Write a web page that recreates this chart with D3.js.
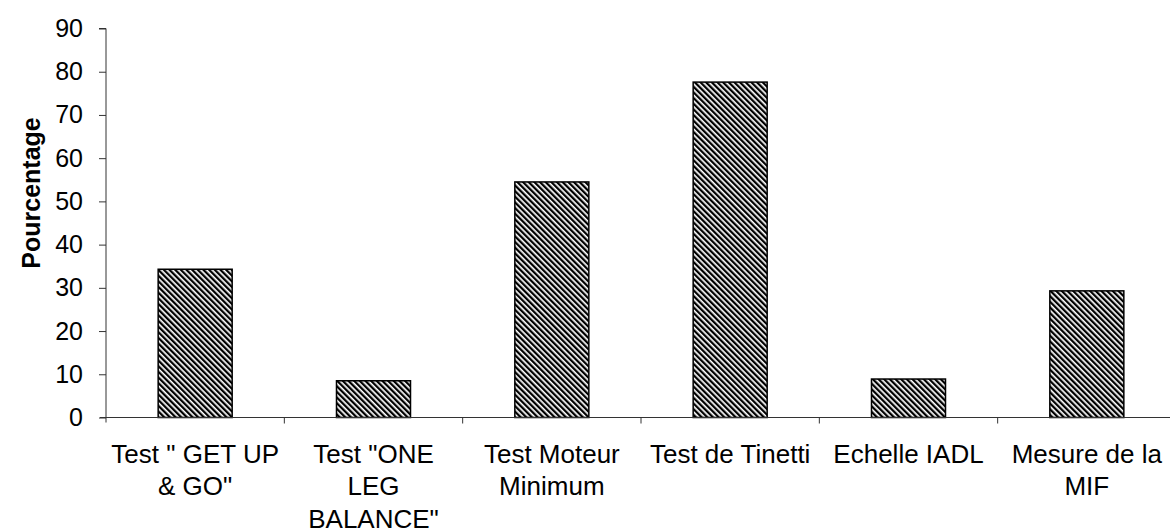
<!DOCTYPE html>
<html>
<head>
<meta charset="utf-8">
<script src="https://cdn.jsdelivr.net/npm/d3@7"></script>
<style>
    body { margin: 0; background: #fff; }
    svg text { font-family: "Liberation Sans", Arial, sans-serif; fill: #000; }
</style>
</head>
<body>
<svg id="chart" width="1170" height="531"></svg>
<script>
const categories = [
    ['Test " GET UP', '& GO"'],
    ['Test "ONE', 'LEG', 'BALANCE"'],
    ['Test Moteur', 'Minimum'],
    ['Test de Tinetti'],
    ['Echelle IADL'],
    ['Mesure de la', 'MIF']
];
const values = [34.3, 8.5, 54.5, 77.6, 8.9, 29.3];
const yTicks = [0, 10, 20, 30, 40, 50, 60, 70, 80, 90];
const yTitle = 'Pourcentage';

const svg = d3.select('#chart');

// diagonal hatch like the old excel fill
svg.append('defs')
    .append('pattern')
    .attr('id', 'hatch')
    .attr('patternUnits', 'userSpaceOnUse')
    .attr('width', 4)
    .attr('height', 10)
    .attr('patternTransform', 'rotate(-45)')
    .call(p => {
        p.append('rect').attr('width', 4).attr('height', 10).attr('fill', '#fff');
        p.append('rect').attr('width', 2.3).attr('height', 10).attr('fill', '#000');
    });

const idx = d3.range(categories.length);

const x = d3.scaleBand()
    .domain(idx)
    .range([106, 1176])
    .paddingInner(0.585)
    .paddingOuter(0.2925);

const y = d3.scaleLinear()
    .domain([0, 90])
    .range([417.5, 28.5]);

const step = x.step();

// y axis
const yAxis = svg.append('g')
    .attr('transform', 'translate(106,0)')
    .call(d3.axisLeft(y).tickValues(yTicks).tickSize(7).tickPadding(16));
yAxis.select('.domain').attr('stroke', '#333').attr('d', `M-7,${y(90)}H0V${y(0) + 5}`);
yAxis.selectAll('.tick line').attr('stroke', '#333');
yAxis.selectAll('.tick text')
    .attr('font-size', 25)
    .attr('font-family', '"Liberation Sans", Arial, sans-serif')
    .attr('fill', '#000');

// bars
svg.append('g')
    .selectAll('rect')
    .data(values)
    .join('rect')
    .attr('x', (d, i) => x(i))
    .attr('y', d => y(d))
    .attr('width', x.bandwidth())
    .attr('height', d => y(0) - y(d))
    .attr('fill', 'url(#hatch)')
    .attr('stroke', '#000')
    .attr('stroke-width', 1.5);

// x axis line + category ticks
const xAxis = svg.append('g');
xAxis.append('line')
    .attr('x1', 100).attr('x2', 1170)
    .attr('y1', y(0)).attr('y2', y(0))
    .attr('stroke', '#333');
xAxis.selectAll('line.tick')
    .data(d3.range(1, categories.length))
    .join('line')
    .attr('class', 'tick')
    .attr('x1', i => 106 + i * step)
    .attr('x2', i => 106 + i * step)
    .attr('y1', y(0))
    .attr('y2', y(0) + 6)
    .attr('stroke', '#333');

// category labels
xAxis.selectAll('text.cat')
    .data(categories)
    .join('text')
    .attr('class', 'cat')
    .attr('text-anchor', 'middle')
    .attr('font-size', 26)
    .attr('transform', (d, i) => `translate(${x(i) + x.bandwidth() / 2},${y(0) + 45})`)
    .selectAll('tspan')
    .data(d => d)
    .join('tspan')
    .attr('x', 0)
    .attr('y', (d, j) => j * 32.5)
    .text(d => d);

// y title
svg.append('text')
    .attr('transform', 'translate(40,193) rotate(-90)')
    .attr('text-anchor', 'middle')
    .attr('font-size', 25)
    .attr('font-weight', 'bold')
    .text(yTitle);
</script>
</body>
</html>
